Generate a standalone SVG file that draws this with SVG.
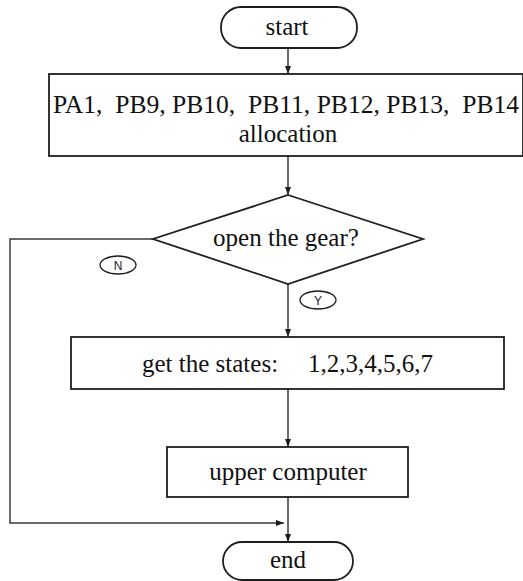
<svg xmlns="http://www.w3.org/2000/svg" width="523" height="581" viewBox="0 0 523 581">
  <style>
    .shape { fill: #ffffff; stroke: #1e1e1e; stroke-width: 1.8; }
    .line { fill: none; stroke: #3a3a3a; stroke-width: 1.5; }
    .label { font-family: "Liberation Serif", "Times New Roman", serif; font-size: 25px; fill: #111111; text-anchor: middle; }
    .left { text-anchor: start; }
    .tag { font-family: "Liberation Sans", Arial, sans-serif; font-size: 12px; fill: #222222; text-anchor: middle; }
    .tagshape { fill: #ffffff; stroke: #1e1e1e; stroke-width: 1.3; }
  </style>
  <defs>
    <marker id="arrow" viewBox="0 0 8 6" refX="8" refY="3" markerWidth="8" markerHeight="6" markerUnits="userSpaceOnUse" orient="auto">
      <path d="M0,0 L8,3 L0,6 z" fill="#1e1e1e"/>
    </marker>
  </defs>
  <rect width="523" height="581" fill="#ffffff"/>

  <g id="connectors">
    <line class="line" x1="288" y1="48" x2="288" y2="74" marker-end="url(#arrow)"/>
    <line class="line" x1="288" y1="156" x2="288" y2="195" marker-end="url(#arrow)"/>
    <line class="line" x1="288" y1="284" x2="288" y2="337" marker-end="url(#arrow)"/>
    <line class="line" x1="288" y1="389" x2="288" y2="447" marker-end="url(#arrow)"/>
    <line class="line" x1="288" y1="497" x2="288" y2="542" marker-end="url(#arrow)"/>
    <polyline class="line" points="153,239 10,239 10,523 284,523" marker-end="url(#arrow)"/>
    <g id="tag-n">
      <ellipse class="tagshape" cx="118" cy="265" rx="18" ry="9"/>
      <text class="tag" x="118" y="269.5">N</text>
    </g>
    <g id="tag-y">
      <ellipse class="tagshape" cx="318" cy="300" rx="18" ry="9"/>
      <text class="tag" x="318" y="304.5">Y</text>
    </g>
  </g>

  <g id="start">
    <rect class="shape" x="221" y="7" width="136" height="41" rx="20" ry="20"/>
    <text class="label" x="287" y="35">start</text>
  </g>

  <g id="allocation">
    <rect class="shape" x="49" y="74" width="474" height="82"/>
    <text class="label left" x="53" y="113" textLength="466" lengthAdjust="spacingAndGlyphs" xml:space="preserve">PA1,  PB9, PB10,  PB11, PB12, PB13,  PB14</text>
    <text class="label" x="288" y="142">allocation</text>
  </g>

  <g id="decision">
    <polygon class="shape" points="288,195 423,239 288,284 153,239"/>
    <text class="label" x="286" y="246">open the gear?</text>
  </g>

  <g id="states">
    <rect class="shape" x="71" y="337" width="433" height="52"/>
    <text class="label left" x="142" y="372">get the states:</text>
    <text class="label left" x="308" y="372">1,2,3,4,5,6,7</text>
  </g>

  <g id="upper">
    <rect class="shape" x="167" y="447" width="241" height="50"/>
    <text class="label" x="288" y="480">upper computer</text>
  </g>

  <g id="end">
    <rect class="shape" x="223" y="542" width="130" height="38" rx="19" ry="19"/>
    <text class="label" x="288" y="568">end</text>
  </g>
</svg>
